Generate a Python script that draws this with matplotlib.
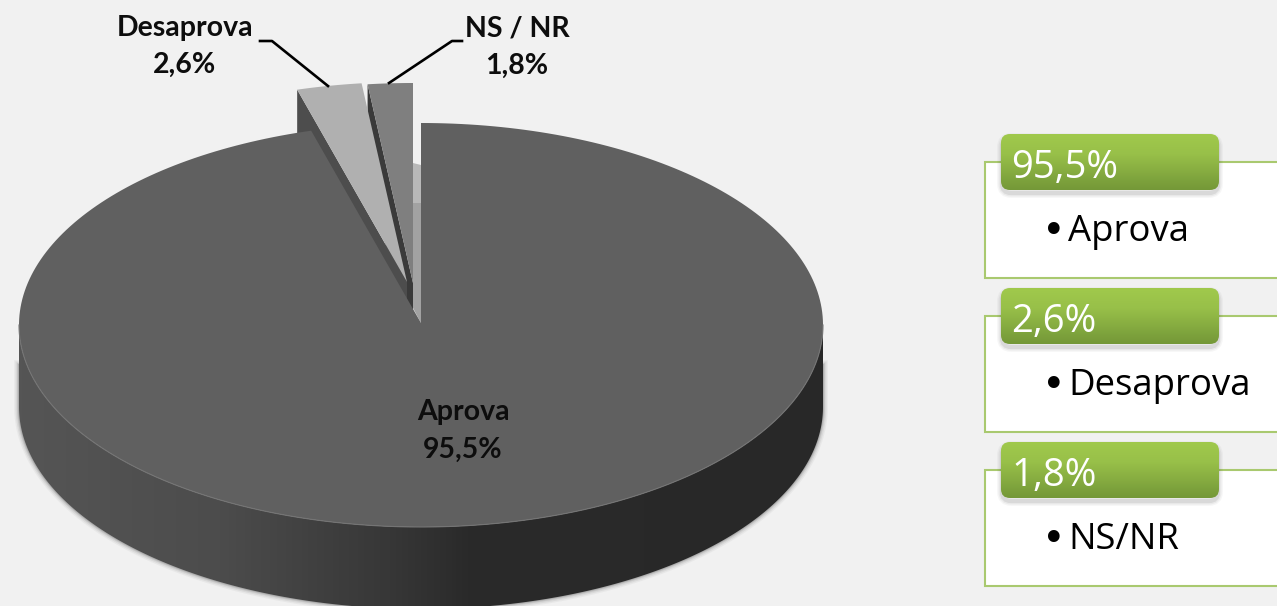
import numpy as np
import matplotlib
matplotlib.use('Agg')
import matplotlib.pyplot as plt
from matplotlib.patches import Polygon, FancyBboxPatch, Rectangle
from matplotlib.colors import LinearSegmentedColormap

# dados
categorias = ['Aprova', 'Desaprova', 'NS / NR']
valores = [95.5, 2.6, 1.8]
rotulos = ['95,5%', '2,6%', '1,8%']
nomes_caixa = ['Aprova', 'Desaprova', 'NS/NR']
cores_topo = ['#606060', '#b0b0b0', '#7f7f7f']

W, H = 1277, 606
FUNDO = '#f1f1f1'

# geometria da pizza em pixels
cx, cy = 421, 325
rx, ry = 402, 202
apice_y = 323
alt = 82
desloc = {1: (-14, -41), 2: (-8, -40)}

fig = plt.figure(figsize=(W / 100, H / 100), dpi=100, facecolor=FUNDO)
ax = fig.add_axes([0, 0, 1, 1])
ax.set_xlim(0, W)
ax.set_ylim(H, 0)
ax.axis('off')


def borda(a1, a2, dx=0, dy=0, n=300):
    # angulo em graus, horario a partir do topo
    t = np.radians(np.linspace(a1, a2, n))
    return np.column_stack([cx + dx + rx * np.sin(t), cy + dy - ry * np.cos(t)])


def fatia(a1, a2, dx=0, dy=0):
    return np.vstack([[cx + dx, apice_y + dy], borda(a1, a2, dx, dy)])


total = sum(valores)
limites = np.cumsum([0] + valores) / total * 360
limites[-1] = 360

# sombra suave da lateral
base = borda(90, 270, dy=alt)
base = np.vstack([[cx + rx, cy + 40], base, [cx - rx, cy + 40]])
for lw, a in [(7, 0.05), (5, 0.08), (3, 0.12), (1.5, 0.18)]:
    ax.plot(base[:, 0], base[:, 1], color='#404040', lw=lw, alpha=a, zorder=1)

# lateral com degrade
lateral = np.vstack([borda(90, 270), borda(90, 270, dy=alt)[::-1]])
cmap_lat = LinearSegmentedColormap.from_list('lat', [
    (0, '#555555'), (0.25, '#4c4c4c'), (0.47, '#363636'), (0.56, '#2a2a2a'), (1, '#282828')])
img = ax.imshow(np.linspace(0, 1, 256).reshape(1, -1), cmap=cmap_lat, aspect='auto',
                extent=[cx - rx, cx + rx, H + 5, cy], zorder=2)
pol_lat = Polygon(lateral, closed=True, transform=ax.transData, fc='none', ec='none')
ax.add_patch(pol_lat)
img.set_clip_path(pol_lat)
ax.set_xlim(0, W)
ax.set_ylim(H, 0)

# faces internas das fatias destacadas
a_ns = limites[2]
dx2, dy2 = desloc[2]
p = borda(a_ns, a_ns, dx2, dy2, n=1)[0]
ax.add_patch(Polygon([p, [cx + dx2, apice_y + dy2], [cx + dx2, apice_y + dy2 + alt], [p[0], p[1] + alt]],
                     fc='#3a3a3a', ec='none', zorder=3))
a_de = limites[1]
dx1, dy1 = desloc[1]
p = borda(a_de, a_de, dx1, dy1, n=1)[0]
ax.add_patch(Polygon([p, [cx + dx1, apice_y + dy1], [cx + dx1, apice_y + dy1 + alt], [p[0], p[1] + alt]],
                     fc='#4d4d4d', ec='none', zorder=3))

# parede clara ao lado da fatia NS / NR
y_par = cy - ry - dy2
ax.add_patch(Polygon([[cx + dx2, y_par], [cx, y_par + 2], [cx, y_par + 40], [cx + dx2, y_par + 40]],
                     fc='#b8b8b8', ec='none', zorder=3))
ax.add_patch(Polygon([[cx + dx2, y_par + 40], [cx, y_par + 40], [cx, apice_y], [cx + dx2, apice_y - 15]],
                     fc='#a2a2a2', ec='none', zorder=3))

# topos das fatias
for i, dd in desloc.items():
    ax.add_patch(Polygon(fatia(limites[i], limites[i + 1], *dd), fc=cores_topo[i], ec='none', zorder=4))
ax.add_patch(Polygon(fatia(limites[0], limites[1]), fc=cores_topo[0], ec='none', zorder=5))
fr = borda(90, 270)
ax.plot(fr[:, 0], fr[:, 1], color='#747474', lw=0.8, zorder=6)

# rotulos da pizza
fs = 20.5
estilo = dict(family='Lato', weight='bold', fontsize=fs, color='#0d0d0d', ha='center', va='center', zorder=7)
ax.text(463, 412, categorias[0], **estilo)
ax.text(463, 450, rotulos[0], **estilo)
ax.text(185, 28, categorias[1], **estilo)
ax.text(185, 65, rotulos[1], **estilo)
ax.text(517, 29, categorias[2], **estilo)
ax.text(517, 66, rotulos[2], **estilo)

# linhas de chamada
ax.plot([260, 272, 328], [41, 41, 86], color='black', lw=1.9, zorder=7)
ax.plot([462, 452, 389], [41, 41, 83], color='black', lw=1.9, zorder=7)

# caixas da direita
cmap_verde = LinearSegmentedColormap.from_list('verde', [(0, '#a0c94c'), (0.35, '#98c049'), (1, '#749838')])
topos = [134, 288, 442]
for i, y0 in enumerate(topos):
    ax.add_patch(Rectangle((985, y0 + 28), W - 985 + 5, 116, fc='white', ec='#a9c96f', lw=1.5, zorder=2))
    # sombra
    for k, a in [(7, 0.04), (5, 0.06), (3, 0.09)]:
        ax.add_patch(FancyBboxPatch((1002, y0 + 4), 216, 55, boxstyle='round,pad=0,rounding_size=9',
                                    fc='none', ec='#303030', lw=k, alpha=a, zorder=3))
    g = ax.imshow(np.linspace(0, 1, 64).reshape(-1, 1), cmap=cmap_verde, aspect='auto',
                  extent=[1001, 1219, y0 + 56, y0], zorder=4)
    caixa = FancyBboxPatch((1001, y0), 218, 56, boxstyle='round,pad=0,rounding_size=9',
                           fc='none', ec='none', transform=ax.transData)
    ax.add_patch(caixa)
    g.set_clip_path(caixa)
    ax.text(1011, y0 + 34, rotulos[i], family='Open Sans', fontsize=27.5, color='white',
            ha='left', va='center', zorder=5)
    ax.text(1042, y0 + 98, '•', family='DejaVu Sans', fontsize=29, color='black', ha='left', va='center', zorder=5)
    ax.text(1068, y0 + 98, nomes_caixa[i], family='Open Sans', fontsize=26.3, color='black',
            ha='left', va='center', zorder=5)
ax.set_xlim(0, W)
ax.set_ylim(H, 0)

fig.savefig('out.png', dpi=100, facecolor=FUNDO)
